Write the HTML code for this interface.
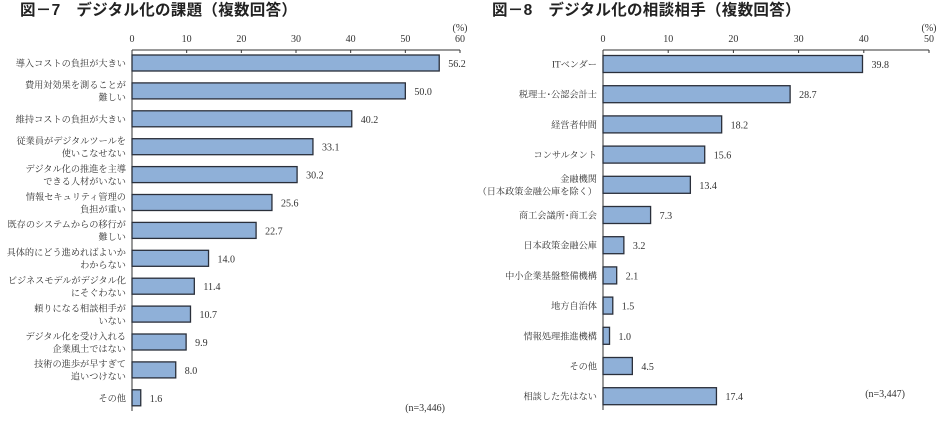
<!DOCTYPE html>
<html><head><meta charset="utf-8"><style>
body{margin:0;background:#fff;width:940px;height:436px;overflow:hidden}
svg{display:block}
.t{font-family:"Liberation Sans","Noto Sans CJK JP",sans-serif;font-weight:bold;font-size:15.5px;fill:#222;letter-spacing:0.3px}
.s{font-family:"Liberation Serif","Noto Serif CJK SC",serif;font-size:10px;fill:#333}
.c{font-family:"Liberation Serif","Noto Serif CJK SC",serif;font-size:9.2px;fill:#333}
</style></head><body>
<svg id="c" width="940" height="436">
<text class="t" x="20" y="15">図－7　デジタル化の課題（複数回答）</text>
<text class="t" x="492" y="15">図－8　デジタル化の相談相手（複数回答）</text>
</svg>
<script>
const catsL=[["導入コストの負担が大きい"],["費用対効果を測ることが","難しい"],["維持コストの負担が大きい"],["従業員がデジタルツールを","使いこなせない"],["デジタル化の推進を主導","できる人材がいない"],["情報セキュリティ管理の","負担が重い"],["既存のシステムからの移行が","難しい"],["具体的にどう進めればよいか","わからない"],["ビジネスモデルがデジタル化","にそぐわない"],["頼りになる相談相手が","いない"],["デジタル化を受け入れる","企業風土ではない"],["技術の進歩が早すぎて","追いつけない"],["その他"]];
const valsL=[56.2,50.0,40.2,33.1,30.2,25.6,22.7,14.0,11.4,10.7,9.9,8.0,1.6];
const ticksL=[0,10,20,30,40,50,60];
const catsR=[["ITベンダー"],["税理士･公認会計士"],["経営者仲間"],["コンサルタント"],["金融機関","（日本政策金融公庫を除く）"],["商工会議所･商工会"],["日本政策金融公庫"],["中小企業基盤整備機構"],["地方自治体"],["情報処理推進機構"],["その他"],["相談した先はない"]];
const valsR=[39.8,28.7,18.2,15.6,13.4,7.3,3.2,2.1,1.5,1.0,4.5,17.4];
const ticksR=[0,10,20,30,40,50];
const svg=document.getElementById('c');
const NS='http://www.w3.org/2000/svg';
function mk(tag,a,txt){const e=document.createElementNS(NS,tag);for(const k in a)e.setAttribute(k,a[k]);if(txt!=null)e.textContent=txt;svg.appendChild(e);return e;}
function chart(cats,vals,ticks,o){
 const max=ticks[ticks.length-1];
 const x=v=>o.x0+(o.x1-o.x0)*v/max;
 const y=i=>o.y0+i*o.step;
 let e=mk('line',{x1:o.x0,x2:o.x1,y1:o.ay,y2:o.ay,stroke:'#333','stroke-width':1});
 
 e=mk('line',{x1:o.x0,x2:o.x0,y1:o.ay,y2:o.yEnd,stroke:'#333','stroke-width':1});
 
 ticks.forEach(t=>{
  mk('line',{x1:x(t),x2:x(t),y1:o.ay,y2:o.ay+3,stroke:'#333'});
  e=mk('text',{class:'s',x:x(t),y:o.ay-8,'text-anchor':'middle'},t);
  
 });
 e=mk('text',{class:'s',x:o.x1,y:o.ay-19,'text-anchor':'middle'},'(%)');
 
 vals.forEach((v,i)=>{
  const cy=y(i);
  e=mk('rect',{x:o.x0,y:cy-o.bh/2,width:x(v)-o.x0,height:o.bh,fill:'#8fb0d8',stroke:'#2a2f3a','stroke-width':1.3});
  
  e=mk('text',{class:'s',x:x(v)+9,y:cy+4},v.toFixed(1));
  
  const ls=cats[i];
  ls.forEach((l,j)=>{
   e=mk('text',{class:'c',x:o.x0-6,y:cy+3.5+(j-(ls.length-1)/2)*12.5,'text-anchor':'end'},l);
   
  });
 });
 e=mk('text',{class:'s',x:o.nx,y:o.ny,'text-anchor':'end'},o.n);
 
}
chart(catsL,valsL,ticksL,{p:'chart7',x0:132,x1:460,ay:50,yEnd:411,y0:63,step:27.9,bh:16,nx:445,ny:411,n:'(n=3,446)'});
chart(catsR,valsR,ticksR,{p:'chart8',x0:603,x1:929,ay:50,yEnd:410,y0:64,step:30.2,bh:17,nx:905,ny:397,n:'(n=3,447)'});
</script>
</body></html>
